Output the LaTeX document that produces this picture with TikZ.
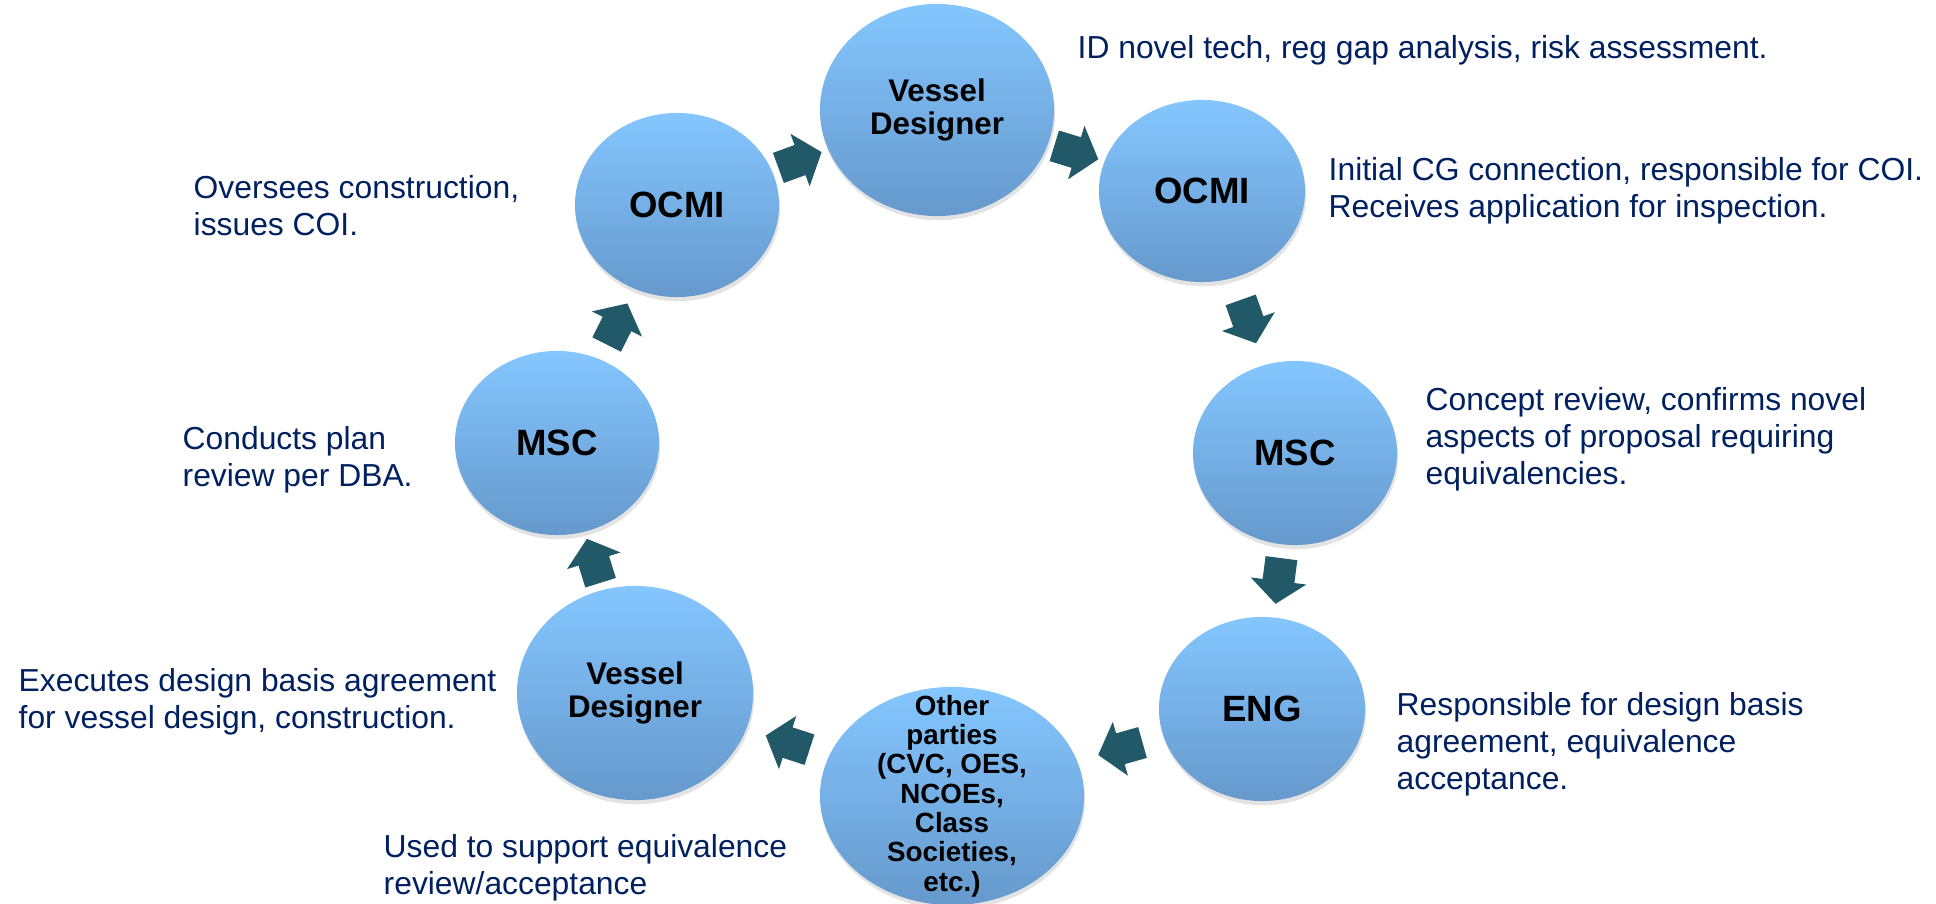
\documentclass[tikz,border=0pt]{standalone}
\usepackage{fontspec}
\setmainfont{Liberation Sans}
\usepackage{tikz}
\usetikzlibrary{shapes.geometric, shadows}

\definecolor{bubbletop}{RGB}{132,198,255}
\definecolor{bubblebot}{RGB}{102,153,204}
\definecolor{arrowteal}{RGB}{33,89,104}
\definecolor{notetext}{RGB}{0,32,96}

\tikzset{
  cyclearrow/.pic={
    \fill[arrowteal] (-23,-16) -- (0,-16) -- (0,-28) -- (23,0) -- (0,28) -- (0,16) -- (-23,16) -- cycle;
  }
}

\begin{document}
\begin{tikzpicture}[x=0.01cm, y=-0.01cm,
    bubble/.style={ellipse, inner sep=0pt, top color=bubbletop, bottom color=bubblebot,
      drop shadow={opacity=0.22, shadow xshift=0.3pt, shadow yshift=-1.2pt},
      align=center, font=\bfseries\fontsize{10.4}{11}\selectfont},
    twoline/.style={font=\bfseries\fontsize{8.9}{9.4}\selectfont},
    note/.style={anchor=north west, inner sep=0pt, align=left, text=notetext,
      font=\fontsize{9.05}{10.5}\selectfont}]
    \useasboundingbox (0,0) rectangle (1936,904);

    \node[bubble, minimum width=2.04cm, minimum height=1.84cm] (ocmiL) at (677,205) {OCMI};
    \node[bubble, twoline, minimum width=2.34cm, minimum height=2.12cm] (vdTop) at (937,110) {Vessel\\Designer};
    \node[bubble, minimum width=2.06cm, minimum height=1.82cm] (ocmiR) at (1202,191) {OCMI};
    \node[bubble, minimum width=2.04cm, minimum height=1.84cm] (mscR) at (1295,453) {MSC};
    \node[bubble, minimum width=2.06cm, minimum height=1.84cm] (eng) at (1262,709) {ENG};
    \node[bubble, minimum width=2.64cm, minimum height=2.18cm] (others) at (952,796) {};
    \node[align=center, font=\bfseries\fontsize{7.9}{8.35}\selectfont] (othersText) at (others)
      {Other\\parties\\(CVC, OES,\\NCOEs,\\Class\\Societies,\\etc.)};
    \node[bubble, twoline, minimum width=2.36cm, minimum height=2.14cm] (vdBot) at (635,693) {Vessel\\Designer};
    \node[bubble, minimum width=2.04cm, minimum height=1.84cm] (mscL) at (557,443) {MSC};

    \path (ocmiL) -- pic[midway, sloped, allow upside down] {cyclearrow} (vdTop);
    \path (vdTop) -- pic[midway, sloped, allow upside down] {cyclearrow} (ocmiR);
    \path (ocmiR) -- pic[midway, sloped, allow upside down] {cyclearrow} (mscR);
    \path (mscR) -- pic[midway, sloped, allow upside down] {cyclearrow} (eng);
    \path (eng) -- pic[midway, sloped, allow upside down] {cyclearrow} (others);
    \path (others) -- pic[midway, sloped, allow upside down] {cyclearrow} (vdBot);
    \path (vdBot) -- pic[midway, sloped, allow upside down] {cyclearrow} (mscL);
    \path (mscL) -- pic[midway, sloped, allow upside down] {cyclearrow} (ocmiL);

    \node[note] (noteVdTop) at (1077,35) {ID novel tech, reg gap analysis, risk assessment.};
    \node[note] (noteOcmiR) at (1328,157) {Initial CG connection, responsible for COI.\\Receives application for inspection.};
    \node[note] (noteMscR) at (1425,387) {Concept review, confirms novel\\aspects of proposal requiring\\equivalencies.};
    \node[note] (noteEng) at (1396,692) {Responsible for design basis\\agreement, equivalence\\acceptance.};
    \node[note] (noteOthers) at (383,834) {Used to support equivalence\\review/acceptance};
    \node[note] (noteVdBot) at (18,668) {Executes design basis agreement\\for vessel design, construction.};
    \node[note] (noteMscL) at (182,426) {Conducts plan\\review per DBA.};
    \node[note] (noteOcmiL) at (193,175) {Oversees construction,\\issues COI.};
\end{tikzpicture}
\end{document}
